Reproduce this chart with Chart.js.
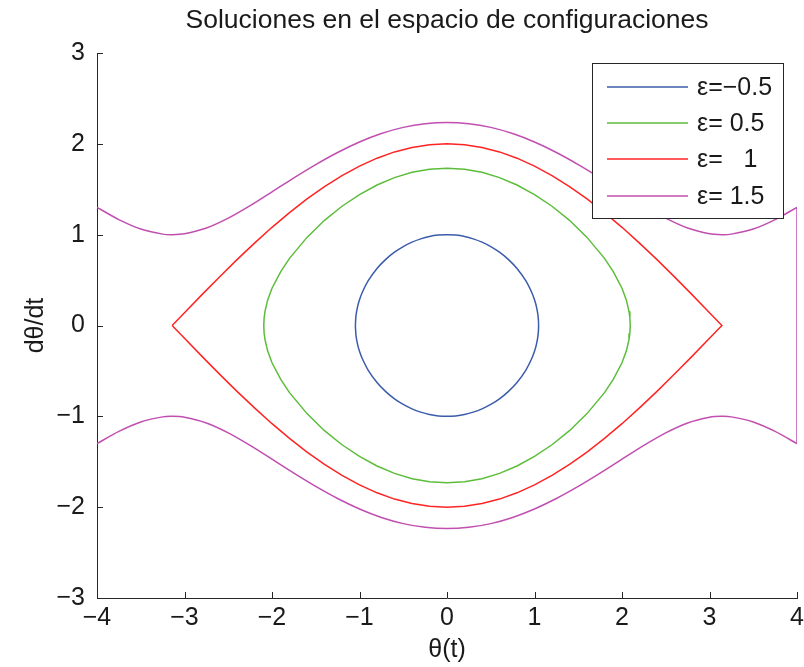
<!DOCTYPE html>
<html>
<head>
<meta charset="utf-8">
<script src="https://cdn.jsdelivr.net/npm/chart.js@4"></script>
<style>
html,body{margin:0;padding:0;background:#fff;}
canvas{display:block;}
</style>
</head>
<body>
<canvas id="c" width="804" height="667"></canvas>
<script>
// ---- data ----
const xTicks = [-4, -3, -2, -1, 0, 1, 2, 3, 4];
const yTicks = [-3, -2, -1, 0, 1, 2, 3];
const labels = ['ε=−0.5', 'ε= 0.5', 'ε=   1', 'ε= 1.5'];
const colors = ['#3b5bab', '#5cbd3a', '#ff2424', '#c04fb0'];

// eps = -0.5 (closed loop)
const e1Theta = [-1.047,-1.04,-1.02,-1.0,-0.97,-0.9,-0.8,-0.7,-0.6,-0.5,-0.4,-0.3,-0.2,-0.1,0,0.1,0.2,0.3,0.4,0.5,0.6,0.7,0.8,0.9,0.97,1.0,1.02,1.04,1.047,
                 1.04,1.02,1.0,0.97,0.9,0.8,0.7,0.6,0.5,0.4,0.3,0.2,0.1,0,-0.1,-0.2,-0.3,-0.4,-0.5,-0.6,-0.7,-0.8,-0.9,-0.97,-1.0,-1.02,-1.04,-1.047];
const e1V = [0,0.111,0.216,0.284,0.361,0.493,0.627,0.728,0.807,0.869,0.918,0.954,0.980,0.995,1.0,0.995,0.980,0.954,0.918,0.869,0.807,0.728,0.627,0.493,0.361,0.284,0.216,0.111,0,
             -0.111,-0.216,-0.284,-0.361,-0.493,-0.627,-0.728,-0.807,-0.869,-0.918,-0.954,-0.980,-0.995,-1.0,-0.995,-0.980,-0.954,-0.918,-0.869,-0.807,-0.728,-0.627,-0.493,-0.361,-0.284,-0.216,-0.111,0];

// eps = 0.5 (closed loop)
const e2Theta = [-2.094,-2.09,-2.08,-2.05,-2.0,-1.9,-1.8,-1.6,-1.4,-1.2,-1.0,-0.8,-0.6,-0.4,-0.2,0,0.2,0.4,0.6,0.8,1.0,1.2,1.4,1.6,1.8,1.9,2.0,2.05,2.08,2.09,2.094,
                 2.09,2.08,2.05,2.0,1.9,1.8,1.6,1.4,1.2,1.0,0.8,0.6,0.4,0.2,0,-0.2,-0.4,-0.6,-0.8,-1.0,-1.2,-1.4,-1.6,-1.8,-1.9,-2.0,-2.05,-2.08,-2.09,-2.094];
const e2V = [0,0.084,0.156,0.279,0.410,0.594,0.739,0.970,1.158,1.313,1.442,1.547,1.628,1.686,1.721,1.732,1.721,1.686,1.628,1.547,1.442,1.313,1.158,0.970,0.739,0.594,0.410,0.279,0.156,0.084,0,
             -0.084,-0.156,-0.279,-0.410,-0.594,-0.739,-0.970,-1.158,-1.313,-1.442,-1.547,-1.628,-1.686,-1.721,-1.732,-1.721,-1.686,-1.628,-1.547,-1.442,-1.313,-1.158,-0.970,-0.739,-0.594,-0.410,-0.279,-0.156,-0.084,0];

// eps = 1 (separatrix)
const e3Theta = [-3.1416,-3.0,-2.8,-2.6,-2.4,-2.2,-2.0,-1.8,-1.6,-1.4,-1.2,-1.0,-0.8,-0.6,-0.4,-0.2,0,0.2,0.4,0.6,0.8,1.0,1.2,1.4,1.6,1.8,2.0,2.2,2.4,2.6,2.8,3.0,3.1416,
                 3.0,2.8,2.6,2.4,2.2,2.0,1.8,1.6,1.4,1.2,1.0,0.8,0.6,0.4,0.2,0,-0.2,-0.4,-0.6,-0.8,-1.0,-1.2,-1.4,-1.6,-1.8,-2.0,-2.2,-2.4,-2.6,-2.8,-3.0,-3.1416];
const e3V = [0,0.141,0.340,0.535,0.725,0.907,1.081,1.243,1.393,1.530,1.651,1.755,1.842,1.911,1.960,1.990,2.0,1.990,1.960,1.911,1.842,1.755,1.651,1.530,1.393,1.243,1.081,0.907,0.725,0.535,0.340,0.141,0,
             -0.141,-0.340,-0.535,-0.725,-0.907,-1.081,-1.243,-1.393,-1.530,-1.651,-1.755,-1.842,-1.911,-1.960,-1.990,-2.0,-1.990,-1.960,-1.911,-1.842,-1.755,-1.651,-1.530,-1.393,-1.243,-1.081,-0.907,-0.725,-0.535,-0.340,-0.141,0];

// eps = 1.5 (rotating orbits), upper branch, closing edge, lower branch
const e4Theta = [-4.0,-3.75,-3.5,-3.25,-3.1416,-3.0,-2.75,-2.5,-2.25,-2.0,-1.75,-1.5,-1.25,-1.0,-0.75,-0.5,-0.25,0,0.25,0.5,0.75,1.0,1.25,1.5,1.75,2.0,2.25,2.5,2.75,3.0,3.1416,3.25,3.5,3.75,4.0];
const e4Upper = [1.301,1.166,1.062,1.006,1.0,1.010,1.073,1.182,1.320,1.472,1.626,1.772,1.905,2.020,2.113,2.181,2.222,2.236,2.222,2.181,2.113,2.020,1.905,1.772,1.626,1.472,1.320,1.182,1.073,1.010,1.0,1.006,1.062,1.166,1.301];
const e4Lower = [-1.301,-1.166,-1.062,-1.006,-1.0,-1.010,-1.073,-1.182,-1.320,-1.472,-1.626,-1.772,-1.905,-2.020,-2.113,-2.181,-2.222,-2.236,-2.222,-2.181,-2.113,-2.020,-1.905,-1.772,-1.626,-1.472,-1.320,-1.182,-1.073,-1.010,-1.0,-1.006,-1.062,-1.166,-1.301];
const e4EdgeTheta = [4.0, 4.0];
const e4EdgeV = [1.301, -1.301];

// ---- build datasets ----
function pts(xs, ys) { return xs.map((x, i) => ({x: x, y: ys[i]})); }
function ds(label, color, data, tension) {
  return {label: label, data: data, borderColor: color, backgroundColor: color,
          borderWidth: 1.5, pointRadius: 0, showLine: true, tension: tension, fill: false};
}
const datasets = [
  ds(labels[0], colors[0], pts(e1Theta, e1V), 0.3),
  ds(labels[1], colors[1], pts(e2Theta, e2V), 0),
  ds(labels[2], colors[2], pts(e3Theta, e3V), 0),
  ds(labels[3], colors[3], pts(e4Theta, e4Upper), 0.3),
  ds(labels[3], colors[3], pts(e4Theta, e4Lower), 0.3),
  ds(labels[3], colors[3], pts(e4EdgeTheta, e4EdgeV), 0)
];

const FONT = '"Liberation Sans", Arial, Helvetica, sans-serif';
const INK = '#262626';

const decor = {
  id: 'decor',
  afterDraw(chart) {
    const ctx = chart.ctx;
    const xs = chart.scales.x, ys = chart.scales.y;
    const a = chart.chartArea;
    ctx.save();
    // inward ticks
    ctx.strokeStyle = INK; ctx.lineWidth = 1;
    ctx.beginPath();
    xTicks.forEach(v => { const p = Math.round(xs.getPixelForValue(v)) + 0.5; ctx.moveTo(p, a.bottom); ctx.lineTo(p, a.bottom - 6); });
    yTicks.forEach(v => { const p = Math.round(ys.getPixelForValue(v)) + 0.5; ctx.moveTo(a.left, p); ctx.lineTo(a.left + 6, p); });
    ctx.stroke();
    // title
    ctx.fillStyle = '#1a1a1a';
    ctx.font = '26.5px ' + FONT;
    ctx.textAlign = 'center'; ctx.textBaseline = 'middle';
    ctx.fillText('Soluciones en el espacio de configuraciones', (a.left + a.right) / 2, 21);
    // axis titles
    ctx.font = '25px ' + FONT;
    ctx.fillText('θ(t)', (a.left + a.right) / 2, 650);
    ctx.save();
    ctx.translate(36, (a.top + a.bottom) / 2);
    ctx.rotate(-Math.PI / 2);
    ctx.fillText('dθ/dt', 0, 0);
    ctx.restore();
    // legend
    const bx = 592.5, by = 63.5, bw = 191, bh = 155;
    ctx.fillStyle = '#fff';
    ctx.fillRect(bx, by, bw, bh);
    ctx.strokeStyle = INK; ctx.lineWidth = 1;
    ctx.strokeRect(bx, by, bw, bh);
    const rows = [87, 123, 159, 196];
    ctx.textAlign = 'left'; ctx.textBaseline = 'middle';
    ctx.font = '25px ' + FONT;
    for (let i = 0; i < 4; i++) {
      ctx.strokeStyle = colors[i]; ctx.lineWidth = 1.5;
      ctx.beginPath(); ctx.moveTo(607, rows[i]); ctx.lineTo(688, rows[i]); ctx.stroke();
      ctx.fillStyle = '#1a1a1a';
      ctx.fillText(labels[i], 697, rows[i] + 1);
    }
    ctx.restore();
  }
};

new Chart(document.getElementById('c'), {
  type: 'scatter',
  data: {datasets: datasets},
  plugins: [decor],
  options: {
    responsive: false,
    animation: false,
    devicePixelRatio: 1,
    layout: {padding: {top: 53, right: 7, left: 0, bottom: 0}},
    plugins: {legend: {display: false}, title: {display: false}, tooltip: {enabled: false}},
    scales: {
      x: {
        type: 'linear', min: -4, max: 4,
        afterFit(s) { s.height = 69; s.paddingLeft = 0; s.paddingRight = 0; },
        afterBuildTicks(s) { s.ticks = xTicks.map(v => ({value: v})); },
        ticks: {color: '#1a1a1a', padding: 5, font: {family: FONT, size: 25},
                callback: v => String(v).replace('-', '−')},
        grid: {display: false, drawTicks: false},
        border: {display: true, color: INK, width: 1}
      },
      y: {
        type: 'linear', min: -3, max: 3,
        afterFit(s) { s.width = 97; s.paddingTop = 0; s.paddingBottom = 0; },
        afterBuildTicks(s) { s.ticks = yTicks.map(v => ({value: v})); },
        ticks: {color: '#1a1a1a', padding: 12, font: {family: FONT, size: 25},
                callback: v => String(v).replace('-', '−')},
        grid: {display: false, drawTicks: false},
        border: {display: true, color: INK, width: 1}
      }
    }
  }
});
</script>
</body>
</html>
